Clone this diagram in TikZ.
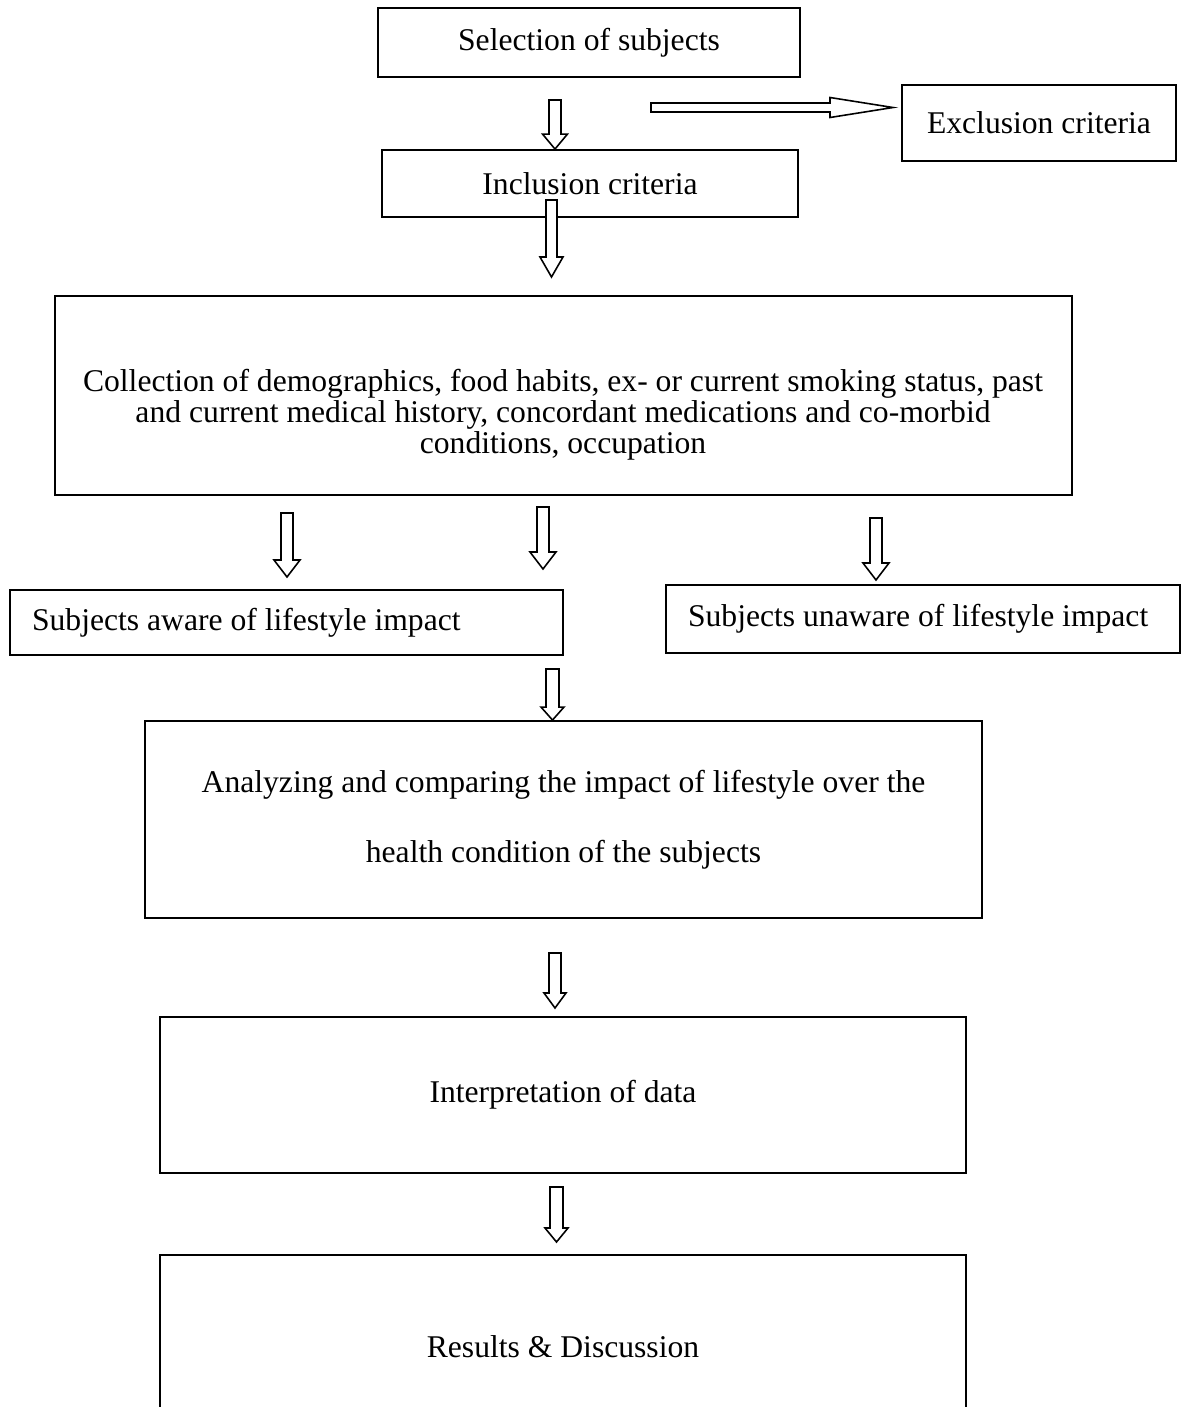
\documentclass[tikz,border=0pt]{standalone}
\usepackage{fontspec}
\setmainfont{Liberation Serif}
\usetikzlibrary{calc}

\tikzset{
  box/.style={draw, line width=1.1pt, inner sep=0pt, font=\fontsize{18}{17.6}\selectfont},
  arrowline/.style={draw, fill=white, line width=0.9pt, line join=miter},
}

\newcommand{\blkarrow}[5]{%
  \path ($(#2)!#5!(#1)$) coordinate (hb);
  \draw[arrowline] ($(#1)!#3!90:(#2)$) -- ($(hb)!#3!90:(#2)$) -- ($(hb)!#4!90:(#2)$) -- (#2)
    -- ($(hb)!#4!-90:(#2)$) -- ($(hb)!#3!-90:(#2)$) -- ($(#1)!#3!-90:(#2)$) -- cycle;
}

\begin{document}
\begin{tikzpicture}[x=0.02cm, y=-0.02cm]
            \clip (0,0) rectangle (1182,1407);
            \fill [white] (0,0) rectangle (1182,1407);
            \node [box, minimum width=8.44cm, minimum height=1.38cm] (sel) at (589,42.5) {Selection of subjects};
            \node [box, minimum width=8.32cm, minimum height=1.34cm] (incl) at (590,183.5) {Inclusion criteria};
            \node [box, minimum width=5.48cm, minimum height=1.52cm] (excl) at (1039,123) {Exclusion criteria};
            \node [box, minimum width=20.34cm, minimum height=3.98cm] (coll) at (563.5,395.5) {};
            \node [align=center, font=\fontsize{18}{17.6}\selectfont] (colltext) at (563,415) {Collection of demographics, food habits, ex- or current smoking status, past\\ and current medical history, concordant medications and co-morbid\\ conditions, occupation};
            \node [box, text width=10.18cm, minimum height=1.3cm, inner xsep=0.44cm, align=flush left] (aware) at (286.5,622.5) {Subjects aware of lifestyle impact};
            \node [box, text width=9.4cm, minimum height=1.36cm, inner xsep=0.44cm, align=flush left] (unaware) at (923,619) {Subjects unaware of lifestyle impact};
            \node [box, minimum width=16.74cm, minimum height=3.94cm, align=center, font=\fontsize{18}{39.7}\selectfont] (ana) at (563.5,819.5) {Analyzing and comparing the impact of lifestyle over the\\ health condition of the subjects};
            \node [box, minimum width=16.12cm, minimum height=3.12cm] (interp) at (563,1095) {Interpretation of data};
            \node [box, minimum width=16.12cm, minimum height=3.68cm] (res) at (563,1347) {Results \& Discussion};

            \coordinate (a1s) at (555,100);
            \coordinate (a1t) at (a1s |- incl.north);
            \coordinate (a2s) at (651,107.5);
            \coordinate (a2t) at (893,107.5);
            \coordinate (a3s) at (551.5,200);
            \coordinate (a3t) at (551.5,277);
            \coordinate (a4s) at (287,513);
            \coordinate (a4t) at (287,577);
            \coordinate (a5s) at (543,507);
            \coordinate (a5t) at (543,569);
            \coordinate (a6s) at (876,518);
            \coordinate (a6t) at (876,580);
            \coordinate (a7s) at (552.5,669);
            \coordinate (a7t) at (a7s |- ana.north);
            \coordinate (a8s) at (555,953);
            \coordinate (a8t) at (555,1008);
            \coordinate (a9s) at (556.5,1187);
            \coordinate (a9t) at (556.5,1242);

            \blkarrow{a1s}{a1t}{0.12cm}{0.25cm}{0.3cm}
            \blkarrow{a2s}{a2t}{0.09cm}{0.2cm}{1.26cm}
            \blkarrow{a3s}{a3t}{0.11cm}{0.23cm}{0.4cm}
            \blkarrow{a4s}{a4t}{0.12cm}{0.26cm}{0.34cm}
            \blkarrow{a5s}{a5t}{0.12cm}{0.26cm}{0.34cm}
            \blkarrow{a6s}{a6t}{0.12cm}{0.26cm}{0.34cm}
            \blkarrow{a7s}{a7t}{0.13cm}{0.23cm}{0.26cm}
            \blkarrow{a8s}{a8t}{0.12cm}{0.22cm}{0.3cm}
            \blkarrow{a9s}{a9t}{0.13cm}{0.23cm}{0.28cm}
        \end{tikzpicture}
\end{document}
